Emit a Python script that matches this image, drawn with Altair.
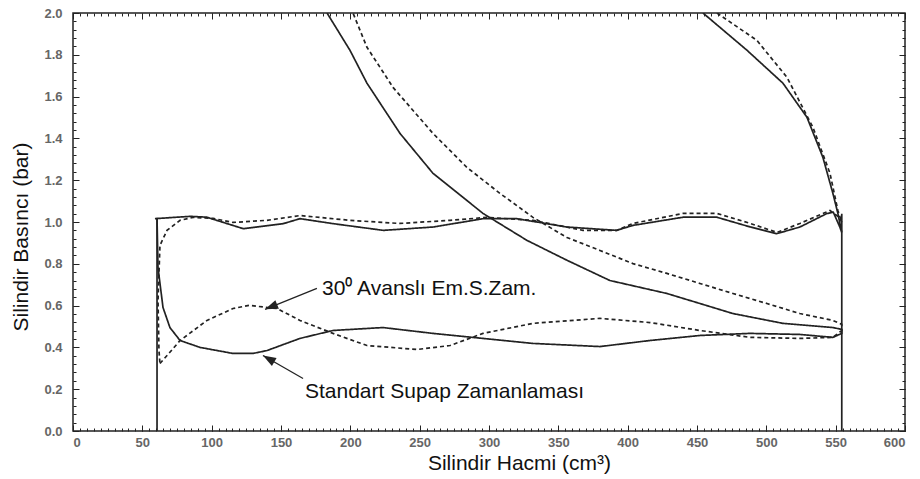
import math
import altair as alt
import pandas as pd

# ---------------- data ----------------
# Standart supap zamanlamasi (solid)
# expansion (right, high pressure) + exhaust stroke (BDC -> TDC)
std_exp_v = [454.3, 486.0, 512.0, 529.3, 540.8, 548.0, 551.6, 554.4]
std_exp_p = [2.0, 1.822, 1.664, 1.501, 1.309, 1.137, 1.041, 0.950]
std_exh_v = [553.0, 548.3, 543.5, 524.2, 507.4, 488.5, 464.2, 440.1, 404.0, 392.0, 356.0,
             320.0, 295.9, 259.8, 223.8, 187.7, 163.7, 151.6, 122.8, 96.4, 84.4, 59.1]
std_exh_p = [0.976, 1.047, 1.040, 0.976, 0.944, 0.976, 1.023, 1.023, 0.984, 0.960, 0.976,
             1.016, 1.016, 0.976, 0.960, 0.992, 1.016, 0.992, 0.968, 1.023, 1.027, 1.016]
# intake stroke (TDC -> BDC) + compression
std_int_v = [60.6, 61.3, 64.9, 69.9, 77.2, 91.6, 115.4, 129.8, 139.9, 163.7, 187.5, 223.5,
             259.6, 295.7, 331.7, 380.0, 416.1, 452.1, 488.2, 524.2, 548.0, 554.4]
std_int_p = [1.017, 0.782, 0.591, 0.495, 0.433, 0.400, 0.371, 0.371, 0.385, 0.443, 0.481, 0.495,
             0.467, 0.443, 0.419, 0.404, 0.433, 0.457, 0.467, 0.462, 0.448, 0.467]
std_comp_v = [554.4, 548.0, 512.0, 475.9, 428.3, 387.2, 356.2, 327.4, 295.7, 259.6, 235.8,
              212.0, 199.7, 183.2]
std_comp_p = [0.486, 0.495, 0.515, 0.562, 0.658, 0.720, 0.817, 0.912, 1.041, 1.233, 1.424,
              1.664, 1.822, 2.0]

# 30 derece avansli emme supabi zamanlamasi (dashed)
adv_exp_v = [464.4, 493.2, 514.9, 533.6, 545.9, 551.6, 554.4]
adv_exp_p = [2.0, 1.869, 1.692, 1.453, 1.233, 1.055, 0.998]
adv_exh_v = [553.0, 545.9, 524.2, 507.7, 488.5, 464.4, 439.9, 403.8, 392.3, 367.8, 331.7,
             298.5, 271.9, 235.8, 199.7, 163.7, 139.9, 115.4, 101.0, 86.5, 77.2, 67.8,
             62.7, 61.3, 62.0, 62.7]
adv_exh_p = [1.020, 1.055, 0.993, 0.950, 0.993, 1.041, 1.041, 0.993, 0.960, 0.960, 1.008,
             1.022, 1.008, 0.993, 1.008, 1.031, 1.008, 0.998, 1.017, 1.022, 1.008, 0.960,
             0.888, 0.624, 0.385, 0.323]
adv_int_v = [62.7, 67.8, 77.2, 96.6, 115.4, 127.0, 147.1, 163.7, 187.5, 212.0, 248.1, 271.9,
             295.7, 331.7, 380.0, 416.1, 452.1, 488.2, 524.2, 548.0, 554.4]
adv_int_p = [0.323, 0.361, 0.433, 0.529, 0.586, 0.601, 0.586, 0.529, 0.467, 0.409, 0.390,
             0.409, 0.467, 0.515, 0.539, 0.519, 0.481, 0.448, 0.443, 0.448, 0.481]
adv_comp_v = [554.4, 548.0, 524.2, 500.4, 475.9, 452.1, 428.3, 403.8, 380.0, 356.2, 331.7,
              307.9, 284.1, 259.6, 230.8, 212.0, 201.9]
adv_comp_p = [0.510, 0.529, 0.562, 0.610, 0.658, 0.706, 0.754, 0.801, 0.864, 0.926, 1.022,
              1.137, 1.261, 1.424, 1.644, 1.836, 2.0]

# TDC / BDC vertical lines
tdc_v, tdc_p = [60.6, 60.6], [0.0, 1.02]
bdc_v, bdc_p = [554.4, 554.4], [0.0, 1.04]

# annotations
ann_text = ["30\u2070 Avanslı Em.S.Zam.", "Standart Supap Zamanlaması"]
ann_v = [179.6, 167.3]
ann_p = [0.653, 0.160]
arrow_tail_v = [175.9, 165.9]
arrow_tail_p = [0.682, 0.251]
arrow_tip_v = [138.5, 137.0]
arrow_tip_p = [0.582, 0.361]

x_major = list(range(0, 601, 50))
x_minor = list(range(0, 601, 5))
y_major = [round(i * 0.2, 2) for i in range(11)]
y_minor = [round(i * 0.04, 2) for i in range(51)]

# ---------------- build tables ----------------
rows = []
def add(seg, style, vs, ps):
    for i, (v, p) in enumerate(zip(vs, ps)):
        rows.append({"v": v, "p": p, "seg": seg, "style": style, "ord": i})

add("std_hi", "solid", std_exp_v + std_exh_v, std_exp_p + std_exh_p)
add("std_lo", "solid", std_int_v + std_comp_v, std_int_p + std_comp_p)
add("adv_hi", "dashed", adv_exp_v + adv_exh_v, adv_exp_p + adv_exh_p)
add("adv_lo", "dashed", adv_int_v + adv_comp_v, adv_int_p + adv_comp_p)
add("tdc", "solid", tdc_v, tdc_p)
add("bdc", "solid", bdc_v, bdc_p)
df = pd.DataFrame(rows)

W, H = 832, 418
FONT = "Liberation Sans"

angles = []
for tv, tp, hv, hp in zip(arrow_tail_v, arrow_tail_p, arrow_tip_v, arrow_tip_p):
    dx = (hv - tv) * W / 600.0
    dy = -(hp - tp) * H / 2.0
    angles.append(math.degrees(math.atan2(dx, -dy)) % 360)

df_ann = pd.DataFrame({"label": ann_text, "v": ann_v, "p": ann_p})
df_arr = pd.DataFrame({"v": arrow_tail_v, "p": arrow_tail_p,
                       "v2": arrow_tip_v, "p2": arrow_tip_p, "ang": angles})
df_dummy = pd.DataFrame({"v": [0, 600], "p": [0, 2]})

xs = alt.Scale(domain=[0, 600], nice=False, zero=False)
ys = alt.Scale(domain=[0, 2], nice=False, zero=False)

lab = dict(labelFont=FONT, labelFontSize=13, labelColor="#666", labelFontWeight="bold",
           ticks=False, tickSize=0, domain=False, grid=False,
           titleFont=FONT, titleFontSize=21, titleFontWeight="normal", titleColor="#111")

lines = alt.Chart(df).mark_line(strokeWidth=1.7, color="#222", clip=True).encode(
    x=alt.X("v:Q", scale=xs, axis=alt.Axis(orient="bottom", values=x_major, labelPadding=5,
            title="Silindir Hacmi  (cm³)", titleX=446, titleY=38, titleAlign="center",
            titleBaseline="alphabetic", **lab)),
    y=alt.Y("p:Q", scale=ys, axis=alt.Axis(orient="left", values=y_major, format=".1f",
            labelPadding=11, title="Silindir Basıncı (bar)", titleX=-46, titleY=223.5,
            titleAngle=270, titleAlign="center", titleBaseline="alphabetic", **lab)),
    detail="seg:N",
    order="ord:Q",
    strokeDash=alt.StrokeDash("style:N", legend=None,
                              scale=alt.Scale(domain=["solid", "dashed"], range=[[1, 0], [4, 3]])),
)

def tick_layer(xo, yo, xv, yv, size):
    common = dict(labels=False, domain=False, grid=False, ticks=True, tickSize=size,
                  tickColor="#222", tickWidth=1)
    return alt.Chart(df_dummy).mark_point(opacity=0, size=1).encode(
        x=alt.X("v:Q", scale=xs, title=None, axis=alt.Axis(orient=xo, offset=-H, values=xv, **common)),
        y=alt.Y("p:Q", scale=ys, title=None, axis=alt.Axis(orient=yo, offset=-W, values=yv, **common)),
    )

t1 = tick_layer("top", "right", x_minor, y_minor, 3)
t2 = tick_layer("top", "right", x_major, y_major, 6)
t3 = tick_layer("bottom", "left", x_minor, y_minor, 3)
t4 = tick_layer("bottom", "left", x_major, y_major, 6)

shafts = alt.Chart(df_arr).mark_rule(strokeWidth=1.3, color="#222").encode(
    x=alt.X("v:Q", scale=xs, axis=None), y=alt.Y("p:Q", scale=ys, axis=None),
    x2="v2:Q", y2="p2:Q")

heads = alt.Chart(df_arr).mark_point(shape="M0,0L-0.36,1L0.36,1Z", filled=True, size=676,
                                     color="#222", opacity=1).encode(
    x=alt.X("v2:Q", scale=xs, axis=None), y=alt.Y("p2:Q", scale=ys, axis=None),
    angle=alt.Angle("ang:Q", scale=None))

texts = alt.Chart(df_ann).mark_text(align="left", baseline="alphabetic", font=FONT,
                                    fontSize=21, color="#111").encode(
    x=alt.X("v:Q", scale=xs, axis=None), y=alt.Y("p:Q", scale=ys, axis=None), text="label:N")

chart = alt.layer(lines, t1, t2, t3, t4, shafts, heads, texts).resolve_axis(
    x="independent", y="independent"
).properties(
    width=W, height=H,
    padding={"left": 73, "top": 13, "right": 15, "bottom": 48},
    autosize=alt.AutoSizeParams(type="none"),
    background="white",
).configure_view(stroke="#222", strokeWidth=1.5)

chart.save("out.html", embed_options={"renderer": "svg", "actions": False})
